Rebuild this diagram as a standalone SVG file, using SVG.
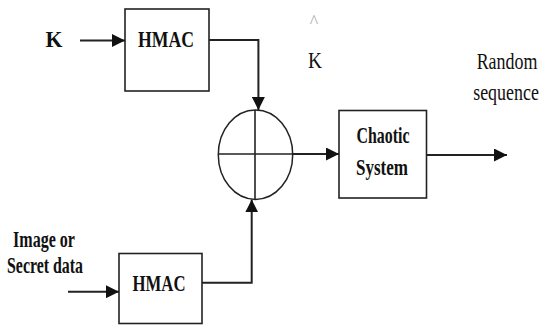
<svg xmlns="http://www.w3.org/2000/svg" width="549" height="327" viewBox="0 0 549 327">
<defs>
<marker id="ah" markerWidth="13" markerHeight="13" viewBox="0 0 13 13" refX="13" refY="6.5" orient="auto" markerUnits="userSpaceOnUse">
<path d="M0,0 L13,6.5 L0,13 Z" fill="#111"/>
</marker>
</defs>
<style>
.box{fill:#fff;stroke:#222;stroke-width:1.6}
.ln{fill:none;stroke:#222;stroke-width:2}
.b{font-family:"Liberation Serif","Times New Roman",serif;font-weight:bold;fill:#111;text-anchor:middle}
.r{font-family:"Liberation Serif","Times New Roman",serif;fill:#111;text-anchor:middle}
</style>
<rect width="549" height="327" fill="#fff"/>
<g id="k-label"><text class="b" x="54" y="47" font-size="24" textLength="17" lengthAdjust="spacingAndGlyphs">K</text></g>
<g id="hmac-top">
<rect class="box" x="125" y="9" width="84" height="82"/>
<text class="b" x="166" y="47" font-size="24" textLength="56" lengthAdjust="spacingAndGlyphs">HMAC</text>
</g>
<g id="khat-label">
<text x="314" y="28" font-size="18" fill="#aaa" text-anchor="middle" font-family="Liberation Serif,serif">^</text>
<text class="r" x="315" y="68" font-size="23" textLength="14" lengthAdjust="spacingAndGlyphs">K</text>
</g>
<g id="xor">
<ellipse cx="255.5" cy="154.7" rx="37.2" ry="44.7" fill="#fff" stroke="#222" stroke-width="1.5"/>
<line x1="218.3" y1="154" x2="292.7" y2="154" stroke="#222" stroke-width="1.6"/>
<line x1="255" y1="110" x2="255" y2="199.4" stroke="#222" stroke-width="1.6"/>
</g>
<g id="chaotic">
<rect class="box" x="339" y="110.5" width="87.5" height="87.5"/>
<text class="b" x="383" y="143" font-size="24" textLength="53" lengthAdjust="spacingAndGlyphs">Chaotic</text>
<text class="b" x="382" y="175" font-size="24" textLength="52" lengthAdjust="spacingAndGlyphs">System</text>
</g>
<g id="random-label">
<text class="r" transform="translate(507,69) scale(0.78,1)" x="0" y="0" font-size="23">Random</text>
<text class="r" transform="translate(506,100) scale(0.78,1)" x="0" y="0" font-size="23">sequence</text>
</g>
<g id="image-label">
<text class="b" x="44" y="246.5" font-size="24" textLength="62" lengthAdjust="spacingAndGlyphs">Image or</text>
<text class="b" x="45" y="273" font-size="24" textLength="76" lengthAdjust="spacingAndGlyphs">Secret data</text>
</g>
<g id="hmac-bottom">
<rect class="box" x="119" y="253.5" width="83" height="70"/>
<text class="b" x="159" y="291" font-size="24" textLength="53" lengthAdjust="spacingAndGlyphs">HMAC</text>
</g>
<g id="connectors">
<line class="ln" x1="80" y1="40.5" x2="125" y2="40.5" marker-end="url(#ah)"/>
<polyline class="ln" points="209,40 258.4,40 258.4,110" marker-end="url(#ah)"/>
<line class="ln" x1="68" y1="291.7" x2="119" y2="291.7" marker-end="url(#ah)"/>
<polyline class="ln" points="202,282.7 251.7,282.7 251.7,199.4" marker-end="url(#ah)"/>
<line class="ln" x1="292.7" y1="154" x2="339" y2="154" marker-end="url(#ah)"/>
<line class="ln" x1="426.5" y1="155" x2="507" y2="155" marker-end="url(#ah)"/>
</g>
</svg>
